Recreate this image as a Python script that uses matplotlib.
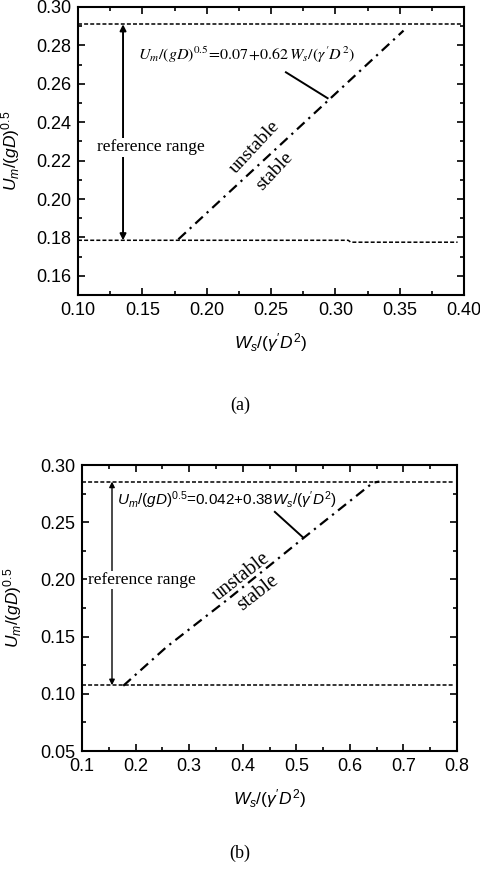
import matplotlib
matplotlib.use("Agg")
import matplotlib.pyplot as plt
from matplotlib.ticker import MultipleLocator

plt.rcParams['font.family'] = ['Liberation Sans', 'DejaVu Sans']
plt.rcParams['mathtext.fontset'] = 'custom'
plt.rcParams['mathtext.rm'] = 'Liberation Sans'
plt.rcParams['mathtext.it'] = 'Liberation Sans:italic'
plt.rcParams['mathtext.bf'] = 'Liberation Sans:bold'

# ---- data (a) ----
a_upper_x = [0.10, 0.40]
a_upper_y = [0.291, 0.291]
a_lower_x = [0.10, 0.31, 0.312, 0.395]
a_lower_y = [0.1785, 0.1785, 0.1775, 0.1775]
a_fit_x = [0.178, 0.353]
a_fit_y = [0.179, 0.2877]
a_arrow_x = 0.135
a_xlim = (0.10, 0.40)
a_ylim = (0.15, 0.30)

# ---- data (b) ----
b_upper_x = [0.10, 0.795]
b_upper_y = [0.2855, 0.2855]
b_lower_x = [0.10, 0.795]
b_lower_y = [0.1075, 0.1075]
b_fit_x = [0.177, 0.258, 0.376, 0.463, 0.513, 0.643, 0.655]
b_fit_y = [0.107, 0.141, 0.184, 0.217, 0.236, 0.2845, 0.2855]
b_arrow_x = 0.156
b_xlim = (0.1, 0.8)
b_ylim = (0.05, 0.30)

fig = plt.figure(figsize=(4.8, 8.72), dpi=100)
axA = fig.add_axes([78/480, 1-295/872, 386/480, 288/872])
axB = fig.add_axes([82/480, 1-751/872, 375/480, 286/872])

dashed = (0, (2.6, 1.4))
dashdot = (0, (4.6, 2.4, 1.0, 2.4))

def style(ax, xmaj, xmin, ymaj, ymin):
    ax.xaxis.set_major_locator(MultipleLocator(xmaj))
    ax.xaxis.set_minor_locator(MultipleLocator(xmin))
    ax.yaxis.set_major_locator(MultipleLocator(ymaj))
    ax.yaxis.set_minor_locator(MultipleLocator(ymin))
    ax.tick_params(which='both', direction='in', top=True, right=True, width=1.2)
    ax.tick_params(which='major', length=5, labelsize=13, pad=5)
    ax.tick_params(which='minor', length=3)
    for s in ax.spines.values():
        s.set_linewidth(1.5)

serif = 'Liberation Serif'

# ---- panel (a) ----
axA.plot(a_upper_x, a_upper_y, color='black', lw=1.1, ls=dashed)
axA.plot(a_lower_x, a_lower_y, color='black', lw=1.1, ls=dashed)
axA.plot(a_fit_x, a_fit_y, color='black', lw=1.6, ls=dashdot)
axA.annotate('', xy=(a_arrow_x, a_upper_y[0]), xytext=(a_arrow_x, a_lower_y[0]),
             arrowprops=dict(arrowstyle='<|-|>', color='black', lw=1.4,
                             mutation_scale=9, shrinkA=0, shrinkB=0))
axA.text(0.157, 0.227, 'reference range', family=serif, fontsize=12.5,
         ha='center', va='center', bbox=dict(facecolor='white', edgecolor='none', pad=1))
axA.text(0.1466, 0.275, r"$U_m/(gD)^{0.5}\!=\!0.07\!+\!0.62\,W_s/(\gamma'D^2)$",
         fontsize=11.5, math_fontfamily='stix', ha='left', va='center')
axA.plot([0.2616, 0.294], [0.266, 0.2525], color='black', lw=1.4)
axA.text(0.2375, 0.227, 'unstable', family=serif, fontsize=14,
         rotation=47, ha='center', va='center')
axA.text(0.2525, 0.2145, 'stable', family=serif, fontsize=14,
         rotation=47, ha='center', va='center')
axA.set_xlim(*a_xlim)
axA.set_ylim(*a_ylim)
style(axA, 0.05, 0.025, 0.02, 0.01)
axA.set_xlabel(r"$W_s/(\gamma'D^2)$", fontsize=12.5, labelpad=9)
axA.set_ylabel(r"$U_m/(gD)^{0.5}$", fontsize=12.5)
axA.yaxis.set_label_coords(-0.145, 0.5)
fig.text(0.5, 1-405/872, '(a)', family=serif, fontsize=13, ha='center', va='center')

# ---- panel (b) ----
axB.plot(b_upper_x, b_upper_y, color='black', lw=1.1, ls=dashed)
axB.plot(b_lower_x, b_lower_y, color='black', lw=1.1, ls=dashed)
axB.plot(b_fit_x, b_fit_y, color='black', lw=1.6, ls=dashdot)
axB.annotate('', xy=(b_arrow_x, b_upper_y[0]), xytext=(b_arrow_x, b_lower_y[0]),
             arrowprops=dict(arrowstyle='<|-|>', color='black', lw=1.0,
                             mutation_scale=8, shrinkA=0, shrinkB=0))
axB.text(0.212, 0.1995, 'reference range', family=serif, fontsize=12.5,
         ha='center', va='center', bbox=dict(facecolor='white', edgecolor='none', pad=1))
axB.text(0.165, 0.2694, r"$U_m/(gD)^{0.5}$=0.042+0.38$W_s/(\gamma'D^2)$",
         fontsize=11, ha='left', va='center')
axB.plot([0.46, 0.513], [0.259, 0.2365], color='black', lw=1.4)
axB.text(0.397, 0.202, 'unstable', family=serif, fontsize=14.5,
         rotation=38, ha='center', va='center')
axB.text(0.428, 0.188, 'stable', family=serif, fontsize=14.5,
         rotation=38, ha='center', va='center')
axB.set_xlim(*b_xlim)
axB.set_ylim(*b_ylim)
style(axB, 0.1, 0.05, 0.05, 0.025)
axB.set_xlabel(r"$W_s/(\gamma'D^2)$", fontsize=12.5, labelpad=9)
axB.set_ylabel(r"$U_m/(gD)^{0.5}$", fontsize=12.5)
axB.yaxis.set_label_coords(-0.155, 0.5)
fig.text(0.5, 1-853/872, '(b)', family=serif, fontsize=13, ha='center', va='center')

fig.savefig('out.png', dpi=100)
